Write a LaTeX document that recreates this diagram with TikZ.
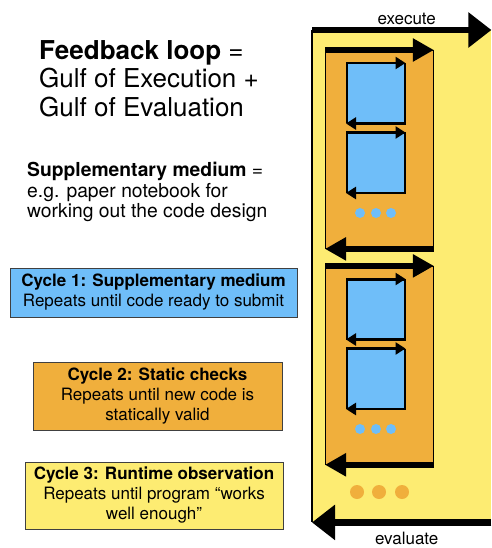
\documentclass[tikz,border=0pt]{standalone}
\usepackage{fontspec}
\setmainfont{TeX Gyre Heros}
\usetikzlibrary{arrows.meta,positioning}
\definecolor{cyellow}{RGB}{253,236,114}
\definecolor{corange}{RGB}{240,175,60}
\definecolor{cblue}{RGB}{111,190,249}
\tikzstyle{outerbox} = [fill=cyellow, inner sep=0pt, anchor=north west, minimum width=179pt, minimum height=492pt]
\tikzstyle{loopbox} = [draw=black, line width=0.9pt, fill=corange, inner sep=0pt, anchor=north west, minimum width=108pt, minimum height=198pt]
\tikzstyle{medbox} = [draw=black, line width=1.5pt, fill=cblue, inner sep=0pt, anchor=north west, minimum width=58pt, minimum height=59pt]
\tikzstyle{cyclebox} = [draw=black!75, line width=0.7pt, align=center, inner sep=0pt, font=\fontsize{17}{20}\selectfont]
\tikzstyle{bigline} = [draw, line width=6.5pt, -{Triangle[length=23pt,width=34pt]}]
\tikzstyle{midline} = [draw, line width=5.5pt, -{Triangle[length=21pt,width=22pt]}]
\tikzstyle{smallline} = [draw, line width=2.8pt, -{Triangle[length=10pt,width=12pt]}]

\begin{document}
\begin{tikzpicture}[x=1pt, y=-1pt]
    \useasboundingbox (0,0) rectangle (491,548);
    % Left column texts
    \node [anchor=north west, inner sep=0pt, align=left, font=\fontsize{26}{28.5}\selectfont] (title) at (39,40) {\textbf{Feedback loop} =\\Gulf of Execution +\\Gulf of Evaluation};
    \node [anchor=north west, inner sep=0pt, align=left, font=\fontsize{19.3}{20.7}\selectfont] (medium) at (27,162) {\textbf{Supplementary medium} =\\e.g. paper notebook for\\working out the code design};
    \node [cyclebox, fill=cblue, minimum width=287pt, minimum height=49pt] (cycle1) at (153.5,292.5) {\textbf{Cycle 1: Supplementary medium}\\Repeats until code ready to submit};
    \node [cyclebox, fill=corange, minimum width=249pt, minimum height=68pt] (cycle2) at (157.5,396) {\textbf{Cycle 2: Static checks}\\Repeats until new code is\\statically valid};
    \node [cyclebox, fill=cyellow, minimum width=258pt, minimum height=67pt] (cycle3) at (154,495.5) {\textbf{Cycle 3: Runtime observation}\\Repeats until program “works\\well enough”};

    % Place nodes
    \node [outerbox] (outer) at (312,30) {};
    \node [loopbox] (loop1) at (325,50) {};
    \node [loopbox, below=17pt of loop1] (loop2) {};
    \node [medbox] (med1) at (346,63) {};
    \node [medbox, below=9pt of med1] (med2) {};
    \node [medbox] (med3) at (346,279) {};
    \node [medbox, below=9pt of med3] (med4) {};
    \node [above=2pt of outer.north, xshift=5pt, font=\fontsize{17}{19}\selectfont] (exec) {execute};
    \node [below=6pt of outer.south, xshift=5pt, font=\fontsize{17}{19}\selectfont] (eval) {evaluate};

    % Dots
    \fill [cblue] (360,213) circle (5pt) (376,213) circle (5pt) (391,213) circle (5pt);
    \fill [cblue] (360,429) circle (5pt) (376,429) circle (5pt) (391,429) circle (5pt);
    \fill [corange] (357,492) circle (7pt) (379,492) circle (7pt) (402,492) circle (7pt);

    % Draw edges
    \draw [line width=1.2pt] (outer.north west) -- (outer.south west);
    \path [bigline] (outer.north west) -- (outer.north east);
    \path [bigline] (outer.south east) -- (outer.south west);
    \path [midline] (loop1.north west) -- (loop1.north east);
    \path [midline] (loop1.south east) -- (loop1.south west);
    \path [midline] (loop2.north west) -- (loop2.north east);
    \path [midline] (loop2.south east) -- (loop2.south west);
    \path [smallline] (med1.north west) -- (med1.north east);
    \path [smallline] (med1.south east) -- (med1.south west);
    \path [smallline] (med2.north west) -- (med2.north east);
    \path [smallline] (med2.south east) -- (med2.south west);
    \path [smallline] (med3.north west) -- (med3.north east);
    \path [smallline] (med3.south east) -- (med3.south west);
    \path [smallline] (med4.north west) -- (med4.north east);
    \path [smallline] (med4.south east) -- (med4.south west);
\end{tikzpicture}
\end{document}
